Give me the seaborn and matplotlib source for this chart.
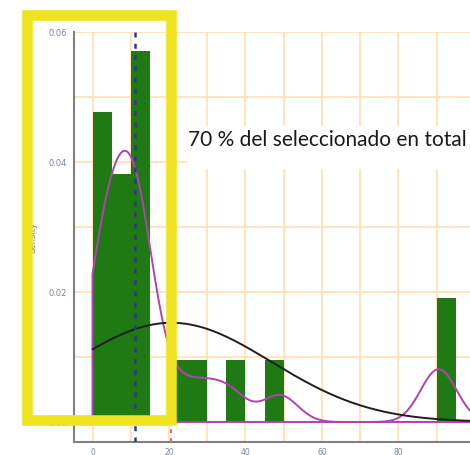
import numpy as np
import matplotlib
matplotlib.use("Agg")
import matplotlib.pyplot as plt
from matplotlib.patches import Rectangle
from matplotlib.ticker import MultipleLocator, FormatStrFormatter
import seaborn as sns

# observations read back from the histogram (21 values, bins of 5)
values = [0.5, 1.2, 2.4, 3.3, 4.6,
          5.8, 7.1, 8.2, 9.4,
          10.3, 11.0, 11.8, 12.7, 13.5, 14.4,
          22.0, 29.0, 36.0, 49.0,
          90.0, 91.0]
note = "70 % del seleccionado en total"

data = np.array(values)
mean = data.mean()
median = np.median(data)
sd = data.std(ddof=1)

sns.set_style("white")
plt.rcParams["font.family"] = ["DejaVu Sans"]

fig = plt.figure(figsize=(4.7, 4.56), dpi=100)
ax = fig.add_axes([74 / 470, 13 / 456, 396 / 470, 410 / 456])

sns.histplot(x=data, binwidth=5, binrange=(0, 95), stat="density",
             color="#1f7a14", alpha=1, linewidth=0, ax=ax, zorder=2)
sns.kdeplot(x=data, bw_method=0.178, clip=(0, None), fill=True,
            facecolor="none", color="#b042b4", linewidth=1.4, ax=ax, zorder=3)

# normal curve fitted to the same sample
xs = np.linspace(0, 100, 300)
pdf = np.exp(-0.5 * ((xs - mean) / sd) ** 2) / (sd * np.sqrt(2 * np.pi))
sns.lineplot(x=xs, y=pdf, color="#1e1e1e", linewidth=1.4, ax=ax, zorder=4)

ax.axvline(median, color="#2d3c82", linestyle=(0, (2, 2.5)), linewidth=1.8, zorder=5)
ax.axvline(mean, color="#ff5a5a", linestyle=(0, (2, 2.5)), linewidth=1.4, zorder=5)

ax.set_xlim(-4.84, 98.7)
ax.set_ylim(-0.00308, 0.06)
ax.xaxis.set_major_locator(MultipleLocator(20))
ax.xaxis.set_minor_locator(MultipleLocator(10))
ax.yaxis.set_major_locator(MultipleLocator(0.02))
ax.yaxis.set_minor_locator(MultipleLocator(0.01))
ax.yaxis.set_major_formatter(FormatStrFormatter("%.2f"))
ax.set_axisbelow(True)
ax.grid(which="both", color="#ffdfb0", linewidth=1.2)

for side in ["top", "right"]:
    ax.spines[side].set_visible(False)
for side in ["left", "bottom"]:
    ax.spines[side].set_color("#808080")
    ax.spines[side].set_linewidth(1.5)

ax.tick_params(which="major", length=3, width=1, color="#808080",
               labelsize=6, labelcolor="#7a8595", pad=2)
ax.tick_params(which="minor", length=0)
ax.tick_params(axis="x", labelsize=5.5, pad=0.5)
ax.set_xlabel("")
ax.set_ylabel("density", fontsize=6, color="#7a8595")
ax.yaxis.set_label_coords(-0.093, 0.5)

# white box behind the note
fig.add_artist(Rectangle((187 / 470, (456 - 170) / 456), 290 / 470, 43 / 456,
                         transform=fig.transFigure, facecolor="white",
                         edgecolor="none", zorder=5))
fig.text(188 / 470, (456 - 146) / 456, note, fontsize=15, family="Lato",
         color="#1a1a1a", va="baseline", ha="left", zorder=6)

# yellow highlight frame
fig.add_artist(Rectangle((27.25 / 470, (456 - 420.75) / 456), 143.5 / 470, 404.5 / 456,
                         transform=fig.transFigure, facecolor="none",
                         edgecolor="#efe21f", linewidth=7.6, zorder=7))

fig.savefig("out.png", dpi=100)
